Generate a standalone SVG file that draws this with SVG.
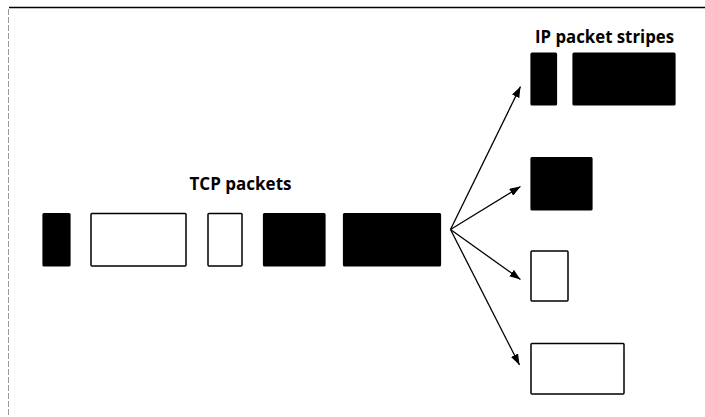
<svg xmlns="http://www.w3.org/2000/svg" width="705" height="417" viewBox="0 0 705 417">
  <defs>
    <marker id="arrow" viewBox="0 0 11 8" refX="11" refY="4" markerWidth="11" markerHeight="8" markerUnits="userSpaceOnUse" orient="auto">
      <path d="M0,0 L11,4 L0,8 Z" fill="#000"/>
    </marker>
  </defs>
  <style>
    .label { font-family: "Open Sans", "Liberation Sans", Arial, sans-serif; font-weight: bold; font-size: 17px; fill: #000; }
    .pkt-full { fill: #000; stroke: #000; stroke-width: 1.2; }
    .pkt-empty { fill: #fff; stroke: #000; stroke-width: 1.5; }
    .link { fill: none; stroke: #000; stroke-width: 1.3; marker-end: url(#arrow); }
    .frame-top { stroke: #000; stroke-width: 1.5; }
    .frame-left { stroke: #999; stroke-width: 1; stroke-dasharray: 6 2; }
  </style>
  <rect width="705" height="417" fill="#fff"/>

  <!-- page frame -->
  <line class="frame-top" x1="9" y1="7.5" x2="705" y2="7.5"/>
  <line class="frame-left" x1="8.5" y1="9" x2="8.5" y2="417"/>

  <text class="label" x="240.5" y="190" text-anchor="middle">TCP packets</text>
  <text class="label" x="604.5" y="43" text-anchor="middle" textLength="139" lengthAdjust="spacingAndGlyphs">IP packet stripes</text>

  <!-- TCP packet stream -->
  <g id="tcp1"><rect class="pkt-full" x="43" y="213.5" width="27" height="52.5" rx="1"/></g>
  <g id="tcp2"><rect class="pkt-empty" x="91" y="213.5" width="95" height="52.5" rx="1"/></g>
  <g id="tcp3"><rect class="pkt-empty" x="208" y="213.5" width="34" height="52.5" rx="1"/></g>
  <g id="tcp4"><rect class="pkt-full" x="263.5" y="213.5" width="61.5" height="52.5" rx="1"/></g>
  <g id="tcp5"><rect class="pkt-full" x="343.5" y="213.5" width="97" height="52.5" rx="1"/></g>

  <!-- IP stripes -->
  <g id="stripe1a"><rect class="pkt-full" x="531" y="53" width="25.5" height="52" rx="1"/></g>
  <g id="stripe1b"><rect class="pkt-full" x="573" y="53" width="102" height="52" rx="1"/></g>
  <g id="stripe2"><rect class="pkt-full" x="531" y="157.5" width="61" height="52.5" rx="1"/></g>
  <g id="stripe3"><rect class="pkt-empty" x="531" y="251" width="37" height="50" rx="1"/></g>
  <g id="stripe4"><rect class="pkt-empty" x="531" y="343.5" width="93" height="50.5" rx="1"/></g>

  <!-- distribution arrows -->
  <g id="connectors">
    <line class="link" x1="450.5" y1="229.5" x2="520.5" y2="86.5"/>
    <line class="link" x1="450.5" y1="229.5" x2="520.5" y2="186.5"/>
    <line class="link" x1="450.5" y1="229.5" x2="520.5" y2="279.5"/>
    <line class="link" x1="450.5" y1="229.5" x2="519.5" y2="365"/>
  </g>
</svg>
